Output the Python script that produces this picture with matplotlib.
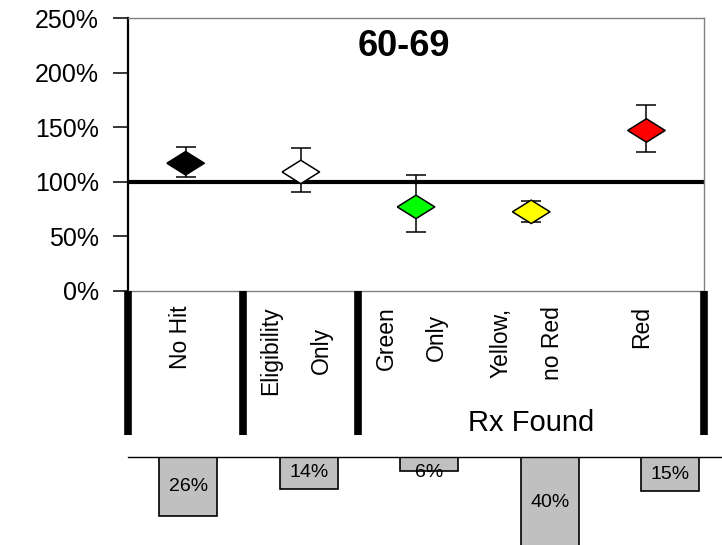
#!/usr/bin/env python3
"""
Ratio by screening result (age 60-69) with share of members below.
"""

import matplotlib
matplotlib.use("Agg")
import matplotlib.pyplot as plt
import matplotlib.ticker as ticker

plt.rcParams['font.family'] = ['Liberation Sans', 'DejaVu Sans']

# ────────────────────────────────────────────────────────────────────────────
# Data
# ────────────────────────────────────────────────────────────────────────────

categories = ["No Hit", "Eligibility\nOnly", "Green\nOnly", "Yellow,\nno Red", "Red"]
ratio_pct  = [117, 109, 77, 72.5, 147]
upper_pct  = [132, 131, 106, 82, 170]
lower_pct  = [104, 91, 54, 63.5, 127.5]
point_colors = ['#000000', '#ffffff', '#00ff00', '#ffff00', '#ff0000']
share_pct  = [26, 14, 6, 40, 15]
share_labels = ["26%", "14%", "6%", "40%", "15%"]
y_ticks = [0, 50, 100, 150, 200, 250]
group_label = "Rx Found"
title = "60-69"

W, H = 722, 545
fig = plt.figure(figsize=(W / 100, H / 100), dpi=100)


def px_axes(left, top, right, bottom):
    """Axes placed by pixel edges (origin top-left)."""
    return fig.add_axes([left / W, 1 - bottom / H, (right - left) / W, (bottom - top) / H])


# ────────────────────────────────────────────────────────────────────────────
# Main panel: ratio with error bars
# ────────────────────────────────────────────────────────────────────────────

ax = px_axes(128, 18, 704, 291)
xpos = [i + 0.5 for i in range(len(categories))]

yerr = [[r - lo for r, lo in zip(ratio_pct, lower_pct)],
        [hi - r for r, hi in zip(ratio_pct, upper_pct)]]
ax.errorbar(xpos, ratio_pct, yerr=yerr, fmt='none', ecolor='black',
            elinewidth=1.1, capsize=7, capthick=1.1, zorder=2)

diamond = [(-1.6, 0), (0, 1), (1.6, 0), (0, -1), (-1.6, 0)]
ax.scatter(xpos, ratio_pct, marker=diamond, s=27 ** 2, c=point_colors,
           edgecolors='black', linewidths=1.1, zorder=3)

ax.axhline(100, color='black', lw=3, zorder=1)

ax.set_xlim(0, len(categories))
ax.set_ylim(0, 250)
ax.set_yticks(y_ticks)
ax.yaxis.set_major_formatter(ticker.FuncFormatter(lambda v, _: f"{v:.0f}%"))
ax.set_xticks([])
ax.tick_params(axis='y', direction='out', length=11, width=1.1, pad=10,
               labelsize=18, colors='black')

for side in ('top', 'right', 'bottom'):
    ax.spines[side].set_color('#808080')
    ax.spines[side].set_linewidth(1.0)
ax.spines['left'].set_color('black')
ax.spines['left'].set_linewidth(1.6)

ax.text(0.479, 0.894, title, transform=ax.transAxes, ha='center', va='center',
        fontsize=26, fontweight='bold')

# ────────────────────────────────────────────────────────────────────────────
# Category label strip
# ────────────────────────────────────────────────────────────────────────────

lab = px_axes(128, 291, 704, 435)
lab.set_xlim(0, len(categories))
lab.set_ylim(0, 1)
lab.axis('off')

lab.vlines([0, 1, 2, len(categories)], 0, 1, colors='black', lw=5.5,
           clip_on=False)
for x, name in zip(xpos, categories):
    lab.text(x - 0.04, 0.896, name, rotation=90, ha='center', va='top',
             multialignment='center', fontsize=16.5, linespacing=2.55)
lab.text(3.5, 0.083, group_label, ha='center', va='center', fontsize=21)

# ────────────────────────────────────────────────────────────────────────────
# Share bars hanging below
# ────────────────────────────────────────────────────────────────────────────

bx = px_axes(128, 457, 722, 545)
slot = 120.5
bx.set_xlim(-0.5, -0.5 + (722 - 128) / slot)
bx.set_ylim((545 - 457) / 2.27, 0)
bar_x = list(range(len(share_pct)))
bx.bar(bar_x, share_pct, width=0.48, color='#c0c0c0', edgecolor='black',
       linewidth=1.2, align='center')
for x, v, txt in zip(bar_x, share_pct, share_labels):
    bx.text(x, max(v / 2, 7), txt, ha='center', va='center', fontsize=14)

bx.set_xticks([])
bx.set_yticks([])
for side in ('left', 'right', 'bottom'):
    bx.spines[side].set_visible(False)
bx.spines['top'].set_color('black')
bx.spines['top'].set_linewidth(1.0)

fig.savefig('out.png', dpi=100)
